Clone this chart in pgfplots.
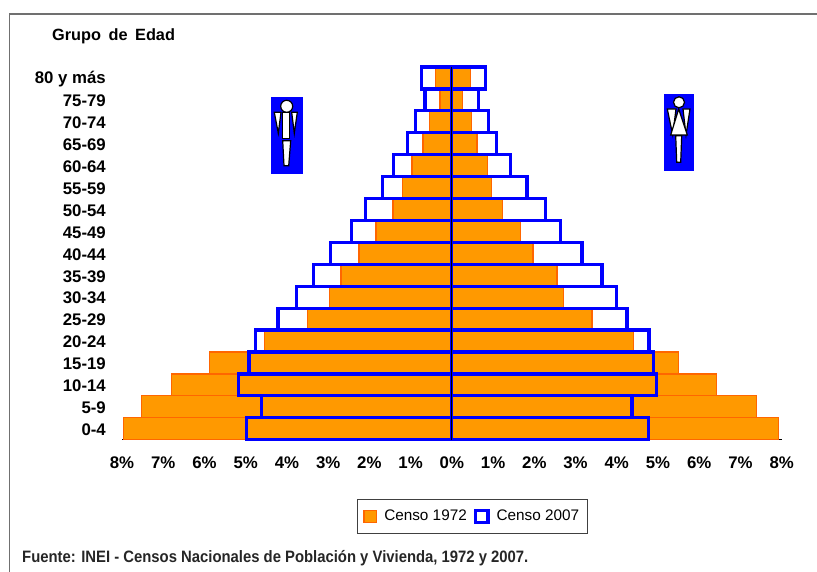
\documentclass[border=0pt]{standalone}
\usepackage{pgfplots}
\usepackage{pgfplotstable}
\usepackage{fontspec}
\setmainfont{Liberation Sans}
\pgfplotsset{compat=1.18}
\definecolor{orangefill}{HTML}{FF9900}
\definecolor{orangeedge}{HTML}{FF6600}
\definecolor{bluebar}{HTML}{0000FF}
\definecolor{frameg}{HTML}{707070}
\pgfplotsset{sqleg/.style={legend image code/.code={\draw[##1] (0pt,-6pt) rectangle (12.5pt,6pt);}}}
\pgfplotstableread{
y h72 m72 h07 m07
0 -7.97 7.93 -4.98 4.77
1 -7.53 7.39 -4.62 4.37
2 -6.80 6.415 -5.17 4.96
3 -5.87 5.50 -4.92 4.89
4 -4.55 4.40 -4.77 4.78
5 -3.50 3.40 -4.22 4.25
6 -2.97 2.71 -3.76 4.00
7 -2.69 2.55 -3.36 3.64
8 -2.25 1.97 -2.95 3.155
9 -1.84 1.665 -2.43 2.63
10 -1.43 1.22 -2.10 2.265
11 -1.19 0.97 -1.69 1.82
12 -0.97 0.857 -1.42 1.415
13 -0.70 0.61 -1.08 1.08
14 -0.54 0.485 -0.89 0.89
15 -0.284 0.26 -0.65 0.646
16 -0.405 0.46 -0.73 0.81
}\datatable
\begin{document}
\begin{tikzpicture}[x=1pt,y=1pt]
\useasboundingbox (0,0) rectangle (817,572);
\draw[frameg,line width=1.2pt] (9.5,0) -- (9.5,558) -- (817,558);
\begin{axis}[
  at={(122pt,132.3pt)}, anchor=south west,
  scale only axis, width=659.7pt, height=372.7pt,
  xmin=-8, xmax=8, ymin=-0.5, ymax=16.5,
  clip=false,
  axis x line=bottom, axis y line=left,
  axis line style={-},
  x axis line style={black,line width=0.9pt},
  y axis line style={draw=none},
  xtick={-8,-7,...,8},
  xticklabels={8\%,7\%,6\%,5\%,4\%,3\%,2\%,1\%,0\%,1\%,2\%,3\%,4\%,5\%,6\%,7\%,8\%},
  ytick={0,...,16},
  yticklabels={0-4,5-9,10-14,15-19,20-24,25-29,30-34,35-39,40-44,45-49,50-54,55-59,60-64,65-69,70-74,75-79,80 y más},
  tick style={draw=none},
  tick label style={font=\fontsize{16.8}{18}\selectfont\bfseries},
  xticklabel style={yshift=-11.5pt},
  yticklabel style={xshift=-10.5pt,yshift=-1pt},
  legend style={at={(0.531,-0.2058)},anchor=center,draw=black!75,line width=1pt,
    font=\fontsize{15.3}{17}\selectfont,legend columns=2,
    /tikz/every even column/.append style={column sep=5pt},
    /tikz/every odd column/.append style={column sep=5pt},
    inner xsep=6pt,inner ysep=9pt},
  legend cell align=left,
]
\addplot[xbar,bar shift=0pt,bar width=21.92pt,fill=orangefill,draw=orangeedge,line width=1.3pt,sqleg] table[x=h72,y=y]{\datatable};
\addlegendentry{Censo 1972}
\addplot[xbar,bar shift=0pt,bar width=21.92pt,fill=orangefill,draw=orangeedge,line width=1.3pt,forget plot] table[x=m72,y=y]{\datatable};
\addplot[xbar,bar shift=0pt,bar width=21.92pt,fill=none,draw=bluebar,line width=3.3pt,sqleg] table[x=h07,y=y]{\datatable};
\addlegendentry{Censo 2007}
\addplot[xbar,bar shift=0pt,bar width=21.92pt,fill=none,draw=bluebar,line width=3.3pt,forget plot] table[x=m07,y=y]{\datatable};
\addplot[black,line width=0.9pt,forget plot] coordinates {(0,-0.5) (0,16.5)};
\end{axis}
\node[anchor=west,inner sep=0pt,font=\fontsize{16.3}{18}\selectfont\bfseries] at (52,535.7) {Grupo\hspace{3pt} de\hspace{3pt} Edad};
\node[anchor=west,inner sep=0pt,text=black!85] at (22,14) {\scalebox{0.90}[1]{\fontsize{16.5}{18}\selectfont\bfseries Fuente: INEI - Censos Nacionales de Población y Vivienda, 1972 y 2007.}};
\begin{scope}[yscale=-1,yshift=-572pt,line width=1.2pt,draw=black,fill=white,line join=miter]
 \fill[bluebar] (271,97) rectangle (303,174);
 \filldraw[fill=white] (286.7,106.3) circle (6);
 \filldraw[fill=white] (274.3,112.3) -- (281,112.3) -- (278.3,133.3) -- cycle;
 \filldraw[fill=white] (291.7,112.3) -- (297.3,112.3) -- (294.3,133.3) -- cycle;
 \filldraw[fill=white] (282.7,112.3) rectangle (289.3,138.3);
 \filldraw[fill=white] (282.7,140.7) -- (290.7,140.7) -- (288.7,165.7) -- (284,165.7) -- cycle;
 \fill[bluebar] (664,94) rectangle (694,171);
 \filldraw[fill=white] (679,102.3) circle (5.5);
 \filldraw[fill=white] (667.3,109) -- (676,109) -- (672.7,135) -- cycle;
 \filldraw[fill=white] (683,109) -- (690,109) -- (686,135) -- cycle;
 \filldraw[fill=white] (678.7,109) -- (687.3,135) -- (670.7,135) -- cycle;
 \filldraw[fill=white] (675.7,135.7) -- (681.7,135.7) -- (680.7,162.3) -- (676.7,162.3) -- cycle;
\end{scope}
\end{tikzpicture}
\end{document}
